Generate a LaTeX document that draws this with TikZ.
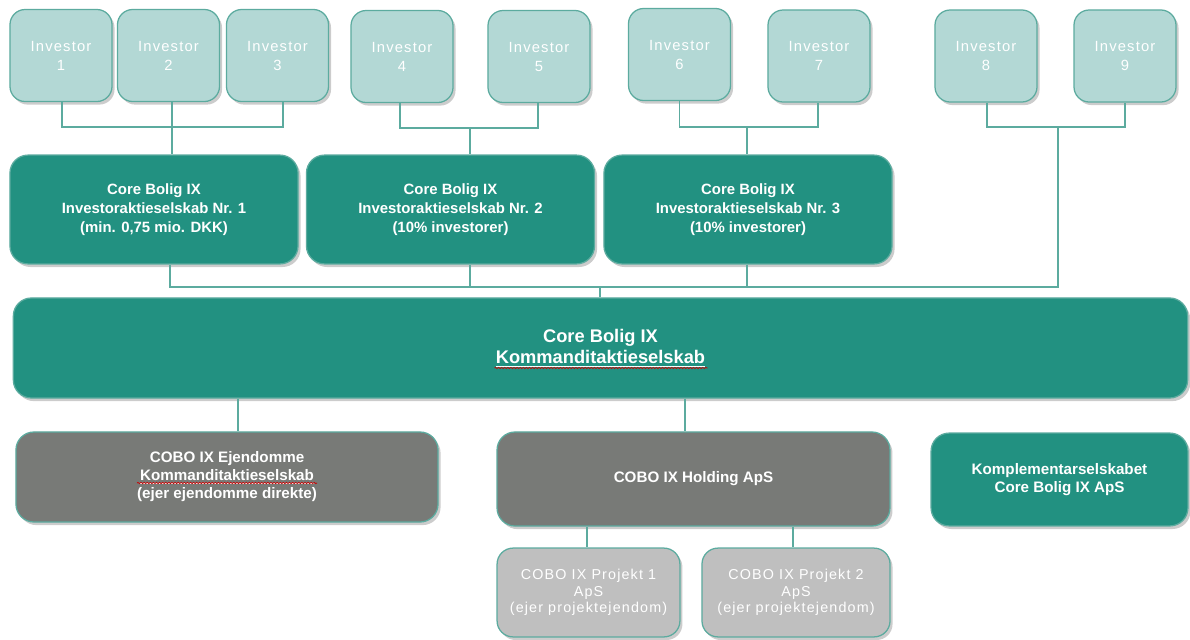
\documentclass[tikz,border=0pt]{standalone}
\usepackage{fontspec}
\setmainfont{Liberation Sans}
\newfontfamily\thinfont[LetterSpace = 8]{Liberation Sans}
\usetikzlibrary{positioning, calc, shadows, decorations.pathmorphing}
\definecolor{invfill}{HTML}{B3D8D5}
\definecolor{tealline}{HTML}{5CAB9F}
\definecolor{tealdark}{HTML}{229181}
\definecolor{greydark}{HTML}{787A77}
\definecolor{greylight}{HTML}{BFBFBF}

\begin{document}
\begin{tikzpicture}[
	x = 0.025cm, y = -0.025cm,
	box/.style = {draw = tealline, line width = 0.9pt, rounded corners = 0.45cm, align = center, text = white,
		drop shadow = {shadow xshift = 1.8pt, shadow yshift = -2.2pt, opacity = 0.4}},
	investor/.style = {box, fill = invfill, rounded corners = 0.38cm, minimum width = 2.55cm, minimum height = 2.3cm,
		font = \thinfont\fontsize{10.5}{13.5}\selectfont},
	iask/.style = {box, fill = tealdark, minimum width = 7.2cm, minimum height = 2.72cm,
		font = \bfseries\fontsize{10.6}{13.5}\selectfont},
	lower/.style = {box, minimum height = 2.3cm, font = \bfseries\fontsize{10.8}{12.8}\selectfont},
	proj/.style = {box, fill = greylight, minimum height = 2.22cm, rounded corners = 0.4cm,
		font = \thinfont\fontsize{10.2}{11.8}\selectfont},
	link/.style = {draw = tealline, line width = 1pt},
	spell/.style = {draw = red!80!black, line width = 0.5pt, decorate, decoration = {snake, amplitude = 0.45pt, segment length = 2.2pt}}
	]
	
	\useasboundingbox (0, 0) rectangle (1190, 639);
	
	% investorer
	\node[investor] (inv1) at (61, 55.5) {Investor\\1};
	\node[investor] (inv2) at (168.5, 55.5) {Investor\\2};
	\node[investor] (inv3) at (277.5, 55.5) {Investor\\3};
	\node[investor] (inv4) at (402, 56.5) {Investor\\4};
	\node[investor] (inv5) at (539, 56.5) {Investor\\5};
	\node[investor] (inv6) at (679.5, 54.5) {Investor\\6};
	\node[investor] (inv7) at (819, 56) {Investor\\7};
	\node[investor] (inv8) at (986, 56) {Investor\\8};
	\node[investor] (inv9) at (1125, 56) {Investor\\9};
	
	% investoraktieselskaber
	\node[iask] (iask1) at (154, 209.5) {Core Bolig IX\\Investoraktieselskab Nr. 1\\(min. 0,75 mio. DKK)};
	\node[iask] (iask2) at (450.5, 209.5) {Core Bolig IX\\Investoraktieselskab Nr. 2\\(10\% investorer)};
	\node[iask] (iask3) at (748, 209.5) {Core Bolig IX\\Investoraktieselskab Nr. 3\\(10\% investorer)};
	
	\node[box, fill = tealdark, minimum width = 29.35cm, minimum height = 2.5cm,
		font = \bfseries\fontsize{13}{15}\selectfont] (kas) at (600.5, 348) {Core Bolig IX\\\underline{Kommanditaktieselskab}};
	
	\node[lower, fill = greydark, minimum width = 10.55cm, minimum height = 2.25cm] (ejd) at (227, 477)
		{COBO IX Ejendomme\\\underline{Kommanditaktieselskab}\\(ejer ejendomme direkte)};
	\node[lower, fill = greydark, minimum width = 9.82cm, minimum height = 2.35cm] (hold) at (693.5, 479) {COBO IX Holding ApS};
	\node[lower, fill = tealdark, minimum width = 6.42cm, minimum height = 2.32cm] (kompl) at (1059.5, 479.5)
		{Komplementarselskabet\\Core Bolig IX ApS};
	
	\node[proj, minimum width = 4.57cm] (proj1) at (588.5, 592.5) {COBO IX Projekt 1\\ApS\\(ejer projektejendom)};
	\node[proj, minimum width = 4.7cm] (proj2) at (796, 592.5) {COBO IX Projekt 2\\ApS\\(ejer projektejendom)};
	
	% forbindelser
	\coordinate (j1) at (172, 127);
	\coordinate (j2) at (470, 128);
	\coordinate (j3) at (747, 127);
	\coordinate (j4) at (1058, 127);
	\coordinate (bus) at (600, 287);
	
	\draw[link] (inv1.south -| 62, 0) |- (j1) -| (inv3.south -| 283, 0);
	\draw[link] (inv2.south -| j1) -- (j1 |- iask1.north);
	\draw[link] (inv4.south -| 400, 0) |- (j2) -| (inv5.south -| 538, 0);
	\draw[link] (j2) -- (j2 |- iask2.north);
	\draw[link] (inv6.south) |- (j3) -| (inv7.south -| 818, 0);
	\draw[link] (j3) -- (j3 |- iask3.north);
	\draw[link] (inv8.south -| 987, 0) |- (j4) -| (inv9.south);
	
	\draw[link] (iask1.south -| 170, 0) |- (bus);
	\draw[link] (j4) |- (bus);
	\draw[link] (iask2.south -| j2) -- (j2 |- bus);
	\draw[link] (iask3.south -| j3) -- (j3 |- bus);
	\draw[link] (bus) -- (bus |- kas.north);
	
	\draw[link] (kas.south -| 238, 0) -- (ejd.north -| 238, 0);
	\draw[link] (kas.south -| 685, 0) -- (hold.north -| 685, 0);
	\draw[link] (hold.south -| 587, 0) -- (proj1.north -| 587, 0);
	\draw[link] (hold.south -| 793, 0) -- (proj2.north -| 793, 0);
	
	% stavekontrol
	\draw[spell] ($(kas.center) + (-106, 20)$) -- ++(213, 0);
	\draw[spell] ($(ejd.center) + (-90, 6)$) -- ++(180, 0);

\end{tikzpicture}
\end{document}
